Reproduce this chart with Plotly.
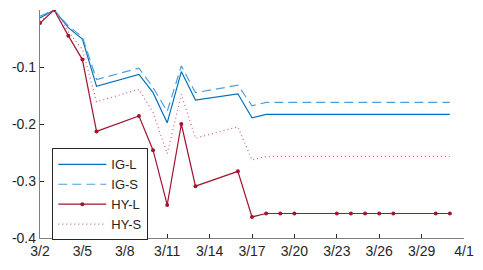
import plotly.graph_objects as go

dates = ["2020-03-02", "2020-03-03", "2020-03-04", "2020-03-05", "2020-03-06",
         "2020-03-09", "2020-03-10", "2020-03-11", "2020-03-12", "2020-03-13",
         "2020-03-16", "2020-03-17", "2020-03-18", "2020-03-19", "2020-03-20",
         "2020-03-23", "2020-03-24", "2020-03-25", "2020-03-26", "2020-03-27",
         "2020-03-30", "2020-03-31"]

ig_l = [-0.014, 0.0, -0.031, -0.051, -0.134, -0.113, -0.145, -0.198, -0.108, -0.158,
        -0.147, -0.189] + [-0.183] * 10
ig_s = [-0.011, 0.0, -0.028, -0.047, -0.122, -0.102, -0.136, -0.178, -0.098, -0.145,
        -0.132, -0.168] + [-0.162] * 10
hy_l = [-0.023, 0.0, -0.045, -0.087, -0.213, -0.186, -0.246, -0.342, -0.200, -0.309,
        -0.283, -0.363] + [-0.357] * 10
hy_s = [-0.020, 0.0, -0.038, -0.069, -0.161, -0.139, -0.180, -0.252, -0.148, -0.225,
        -0.205, -0.263] + [-0.257] * 10

tick_dates = ["2020-03-02", "2020-03-05", "2020-03-08", "2020-03-11", "2020-03-14",
              "2020-03-17", "2020-03-20", "2020-03-23", "2020-03-26", "2020-03-29",
              "2020-04-01"]
tick_labels = ["3/2", "3/5", "3/8", "3/11", "3/14", "3/17", "3/20", "3/23", "3/26",
               "3/29", "4/1"]
y_ticks = [-0.4, -0.3, -0.2, -0.1]
y_labels = ["-0.4", "-0.3", "-0.2", "-0.1"]

fig = go.Figure()
fig.add_trace(go.Scatter(x=dates, y=ig_l, name="IG-L", mode="lines",
                         line=dict(color="#0072BD", width=1.2)))
fig.add_trace(go.Scatter(x=dates, y=ig_s, name="IG-S", mode="lines",
                         line=dict(color="#4DA0DC", width=1.2, dash="9px,5px")))
fig.add_trace(go.Scatter(x=dates, y=hy_l, name="HY-L", mode="lines+markers",
                         line=dict(color="#A2142F", width=1.2),
                         marker=dict(size=4, color="#A2142F")))
fig.add_trace(go.Scatter(x=dates, y=hy_s, name="HY-S", mode="lines",
                         line=dict(color="#D0607A", width=1.2, dash="1px,3px")))

fig.update_layout(
    width=483, height=270,
    margin=dict(l=40, r=9, t=10, b=32),
    paper_bgcolor="white", plot_bgcolor="white",
    font=dict(family="Liberation Sans, Arial", size=14, color="#262626"),
    showlegend=True,
    legend=dict(x=0.029, y=0.393, xanchor="left", yanchor="top",
                bgcolor="white", bordercolor="#262626", borderwidth=1,
                font=dict(size=13, color="#262626"), tracegroupgap=0,
                itemwidth=48),
    xaxis=dict(type="date", range=["2020-03-02", "2020-04-01"],
               tickvals=tick_dates, ticktext=tick_labels,
               showline=True, linecolor="#808080", linewidth=1.3,
               ticks="inside", ticklen=4, tickcolor="#262626",
               ticklabeloverflow="allow",
               showgrid=False, zeroline=False, mirror=False),
    yaxis=dict(range=[-0.4, 0.0], tickvals=y_ticks, ticktext=y_labels,
               showline=True, linecolor="#808080", linewidth=1.3,
               ticks="inside", ticklen=4, tickcolor="#262626",
               showgrid=False, zeroline=False, mirror=False),
)

fig.write_html("out.html",
               config={"displayModeBar": False},
               post_script="document.body.style.margin='0';document.body.style.overflow='hidden';")
